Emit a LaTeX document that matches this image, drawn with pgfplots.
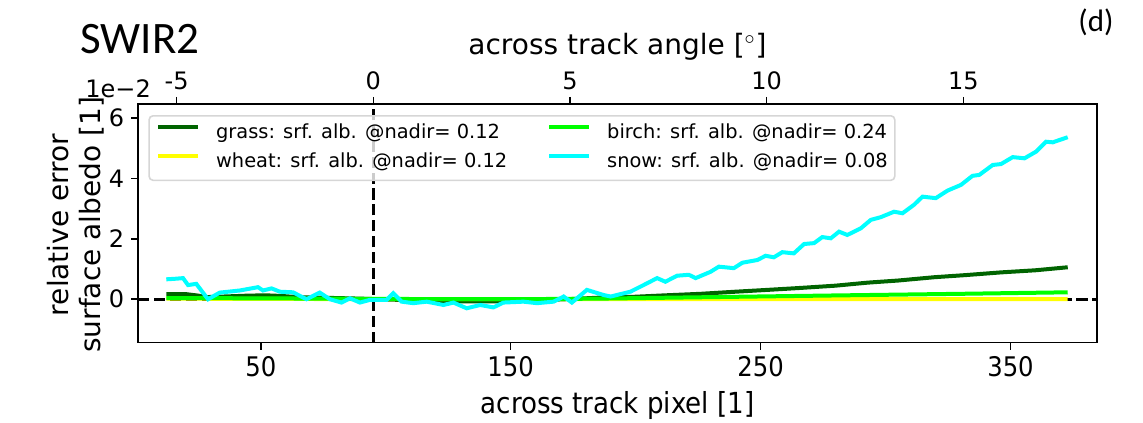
\documentclass[border=0pt]{standalone}
\usepackage{fontspec}
\setmainfont{DejaVu Sans}
\newfontfamily\carlito{Carlito}
\newfontfamily\cond{DejaVu Sans Condensed}
\usepackage{pgfplots}
\pgfplotsset{compat=1.18}
\usepackage{pgfplotstable}

\definecolor{grassc}{HTML}{006400}
\definecolor{wheatc}{HTML}{FFFF00}
\definecolor{birchc}{HTML}{00FF00}
\definecolor{snowc}{HTML}{00FFFF}

\pgfplotstableread{
x y
12.2 0.66
16 0.68
18.9 0.70
20.9 0.47
24.2 0.51
28.9 0.0
33.6 0.22
41.6 0.29
48.9 0.40
50.9 0.29
54.3 0.36
57.6 0.25
62.9 0.23
68.3 0.0
73.6 0.22
77.7 0.0
82.3 -0.11
85.7 0.03
89.7 -0.11
93.7 -0.02
100.4 -0.02
103.0 0.20
106.4 -0.08
111.0 -0.13
116.4 -0.08
123.1 -0.19
127.1 -0.11
132.4 -0.30
137.8 -0.19
143.1 -0.27
147.1 -0.11
155.1 -0.08
160.5 -0.13
167.2 -0.08
171.2 0.09
174.5 -0.11
180.5 0.31
187.2 0.14
190.0 0.09
197.9 0.25
203.2 0.47
208.6 0.70
211.9 0.58
216.6 0.78
221.3 0.81
224.0 0.70
230.0 0.91
233.3 1.08
239.3 1.03
242.7 1.21
248.7 1.30
252.0 1.44
255.3 1.39
258.7 1.56
263.3 1.52
267.4 1.83
271.4 1.86
274.7 2.06
278.1 2.02
281.4 2.24
284.7 2.13
290.1 2.35
294.1 2.63
298.1 2.72
303.4 2.90
306.8 2.85
311.4 3.13
314.8 3.40
320.1 3.35
324.8 3.60
330.2 3.79
334.8 4.09
337.5 4.12
342.9 4.45
346.2 4.48
350.9 4.71
355.6 4.67
360.2 4.89
364.2 5.22
366.9 5.20
372.9 5.37
}\snowtab

\pgfplotstableread{
x y
12.2 0.17
20 0.17
25 0.12
28 0.07
35 0.09
45 0.12
52 0.13
58 0.11
65 0.07
75 0.05
90 0.02
105 -0.02
118 -0.05
130 -0.07
145 -0.07
160 -0.04
175 0.01
187 0.06
199 0.08
212 0.13
226 0.18
240 0.25
252.7 0.31
265 0.37
280 0.45
292.8 0.55
305 0.62
319.5 0.73
332 0.80
346.2 0.89
360 0.96
372.9 1.06
}\grasstab

\pgfplotstableread{
x y
12.2 0.02
60 0.01
120 0.0
180 0.0
250 0.0
300 0.0
372.9 0.0
}\wheattab

\pgfplotstableread{
x y
12.2 0.04
50 0.03
100 0.01
150 0.0
185 0.02
230 0.07
280 0.126
330 0.18
372.9 0.23
}\birchtab

\begin{document}
\begin{tikzpicture}
\path[use as bounding box] (-69.15pt,-39.65pt) rectangle (502.35pt,171.35pt);
\begin{axis}[
  at={(0,0)}, anchor=south west,
  scale only axis, width=479.2pt, height=119.35pt,
  xmin=1, xmax=384.5, ymin=-1.44, ymax=6.47,
  xtick={50,150,250,350}, ytick={0,2,4,6},
  xtick pos=left, ytick pos=left,
  tick align=outside, major tick length=3.5pt,
  every tick/.style={black, line width=0.8pt},
  axis line style={black, line width=0.8pt},
  /pgf/number format/assume math mode=true,
  yticklabel style={font=\fontsize{12}{14}\selectfont},
  xticklabel style={font=\cond\fontsize{13.5}{15}\selectfont},
  xlabel={across track pixel [1]},
  xlabel style={font=\cond\fontsize{14.5}{17}\selectfont, at={(axis description cs:0.5,0)}, anchor=base, yshift=-35.3pt},
  ylabel={relative error\\surface albedo [1]},
  ylabel style={font=\fontsize{14}{16}\selectfont, align=center, at={(axis description cs:-0.0655,0.4933)}, anchor=center},
  legend columns=2, legend cell align=left,
  legend image code/.code={\draw[#1] (0pt,3.5pt) -- (20pt,3.5pt);},
  legend style={at={(0,1)}, anchor=north west, xshift=5pt, yshift=-5.5pt,
    draw=black!16, fill=white, fill opacity=0.8, text opacity=1,
    rounded corners=2pt, line width=0.8pt,
    font=\fontsize{9.7}{11.6}\selectfont,
    inner xsep=3.5pt, inner ysep=4pt, row sep=4.65pt,
    nodes={inner sep=0pt, text height=7.4pt, text depth=2.4pt},
    /tikz/every odd column/.append style={column sep=8pt},
    /tikz/every even column/.append style={column sep=20pt}},
]
\addplot[black, line width=1.5pt, dash pattern=on 5.55pt off 2.4pt, forget plot] coordinates {(1,0) (384.5,0)};
\addplot[black, line width=1.5pt, dash pattern=on 5.55pt off 2.4pt, forget plot] coordinates {(95.2,-1.44) (95.2,6.47)};
\addplot[grassc, line width=2pt, forget plot] table[x=x,y=y] {\grasstab};
\addplot[wheatc, line width=2pt, forget plot] table[x=x,y=y] {\wheattab};
\addplot[birchc, line width=2pt, forget plot] table[x=x,y=y] {\birchtab};
\addplot[snowc, line width=2pt, forget plot] table[x=x,y=y] {\snowtab};
\addlegendimage{grassc, line width=2pt}
\addlegendentry{grass: srf. alb. @nadir= 0.12}
\addlegendimage{birchc, line width=2pt}
\addlegendentry{birch: srf. alb. @nadir= 0.24}
\addlegendimage{wheatc, line width=2pt}
\addlegendentry{wheat: srf. alb. @nadir= 0.12}
\addlegendimage{snowc, line width=2pt}
\addlegendentry{snow: srf. alb. @nadir= 0.08}
\end{axis}
\begin{axis}[
  at={(0,0)}, anchor=south west,
  scale only axis, width=479.2pt, height=119.35pt,
  xmin=-5.975, xmax=18.39, ymin=0, ymax=1,
  axis x line*=top, axis y line=none,
  xtick={-5,0,5,10,15}, xticklabels={-5,0,5,10,15},
  tick align=outside, major tick length=3.5pt,
  every tick/.style={black, line width=0.8pt},
  axis line style={black, line width=0.8pt},
  xticklabel style={font=\fontsize{12}{14}\selectfont},
  xlabel={across track angle [$^\circ$]},
  xlabel style={font=\fontsize{14}{17}\selectfont, at={(axis description cs:0.5,1)}, anchor=base, yshift=24.5pt},
]
\end{axis}
\node[anchor=base west, font=\carlito\fontsize{22.5}{27}\selectfont, inner sep=0pt] at (-29.15pt,144.7pt) {SWIR2};
\node[anchor=center, font=\carlito\fontsize{15.5}{18}\selectfont, inner sep=0pt] at (478.85pt,160.1pt) {(d)};
\node[anchor=base west, font=\fontsize{12}{14}\selectfont, inner sep=0pt] at (-26.65pt,122.35pt) {1e−2};
\end{tikzpicture}
\end{document}
